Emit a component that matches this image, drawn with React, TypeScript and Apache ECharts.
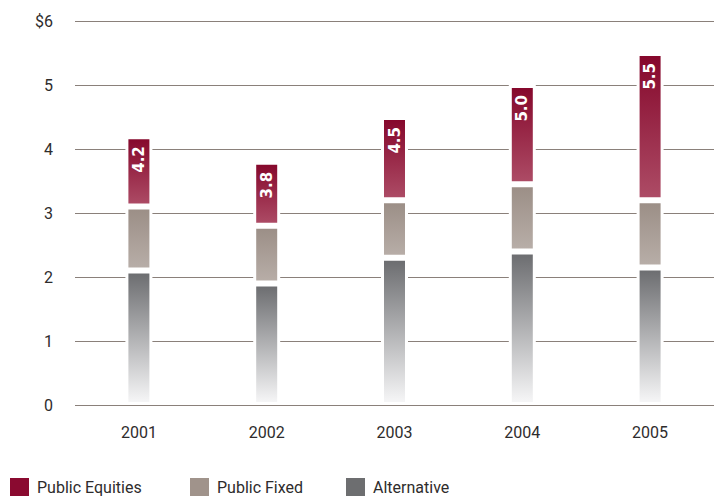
import React, { useEffect, useRef } from "react";
import * as echarts from "echarts";

const years = ["2001", "2002", "2003", "2004", "2005"];
const alternative = [2.1, 1.9, 2.3, 2.4, 2.15];
const publicFixed = [1.0, 0.9, 0.9, 1.05, 1.05];
const publicEquities = [1.1, 1.0, 1.3, 1.55, 2.3];
const totals = [4.2, 3.8, 4.5, 5.0, 5.5];
const yTicks = [0, 1, 2, 3, 4, 5, 6];

const FONT = "'Liberation Sans Narrow', Roboto, 'Liberation Sans', sans-serif";
const TEXT = "#2e2c2c";

const grad = (top: string, bottom: string) =>
  new echarts.graphic.LinearGradient(0, 0, 0, 1, [
    { offset: 0, color: top },
    { offset: 1, color: bottom },
  ]);

export default function App() {
  const ref = useRef<HTMLDivElement>(null);
  useEffect(() => {
    if (!ref.current) return;
    const chart = echarts.init(ref.current, undefined, { renderer: "svg" });
    const barBase = {
      type: "bar" as const,
      stack: "total",
      barWidth: 27,
    };
    const legendCommon = {
      top: 478,
      padding: 0,
      itemWidth: 19,
      itemHeight: 18,
      icon: "rect",
      selectedMode: false,
      textStyle: { fontFamily: FONT, fontSize: 16, color: TEXT, padding: [5, 0, 0, 3] },
    };
    chart.setOption({
      animation: false,
      backgroundColor: "#ffffff",
      grid: { left: 75, right: 0, top: 21, bottom: 99 },
      xAxis: {
        type: "category",
        data: years,
        axisLine: { show: false },
        axisTick: { show: false },
        axisLabel: { fontFamily: FONT, fontSize: 16, color: TEXT, margin: 19 },
      },
      yAxis: {
        type: "value",
        min: yTicks[0],
        max: yTicks[yTicks.length - 1],
        interval: 1,
        axisLine: { show: false },
        axisTick: { show: false },
        splitLine: { lineStyle: { color: "#8a807a", width: 1 } },
        axisLabel: {
          fontFamily: FONT,
          fontSize: 16,
          color: TEXT,
          margin: 22,
          formatter: (v: number) => (v === yTicks[yTicks.length - 1] ? "$" + v : String(v)),
        },
      },
      legend: [
        { ...legendCommon, left: 10, data: [{ name: "Public Equities", itemStyle: { color: "#8a0a30", borderWidth: 0 } }] },
        { ...legendCommon, left: 190, data: [{ name: "Public Fixed", itemStyle: { color: "#a0938b", borderWidth: 0 } }] },
        { ...legendCommon, left: 346, data: [{ name: "Alternative", itemStyle: { color: "#6d6e70", borderWidth: 0 } }] },
      ],
      series: [
        {
          ...barBase,
          name: "Alternative",
          data: alternative,
          itemStyle: { color: grad("#6b6c6f", "#f7f7f8"), borderColor: "#ffffff", borderWidth: 3 },
        },
        {
          ...barBase,
          name: "Public Fixed",
          data: publicFixed,
          itemStyle: { color: grad("#9b8e86", "#b8aea8"), borderColor: "#ffffff", borderWidth: 3 },
        },
        {
          ...barBase,
          name: "Public Equities",
          data: publicEquities,
          itemStyle: { color: grad("#85072b", "#ad4c66"), borderColor: "#ffffff", borderWidth: 3 },
          label: {
            show: true,
            position: "insideTop",
            distance: 10,
            rotate: 90,
            align: "right",
            verticalAlign: "middle",
            color: "#ffffff",
            fontFamily: "'DejaVu Sans', sans-serif",
            fontWeight: "bold",
            fontSize: 15,
            formatter: (p: any) => totals[p.dataIndex].toFixed(1),
          },
        },
      ],
    });
    return () => chart.dispose();
  }, []);
  return (
    <div
      ref={ref}
      style={{ position: "fixed", left: 0, top: 0, width: 714, height: 504, background: "#fff" }}
    />
  );
}
